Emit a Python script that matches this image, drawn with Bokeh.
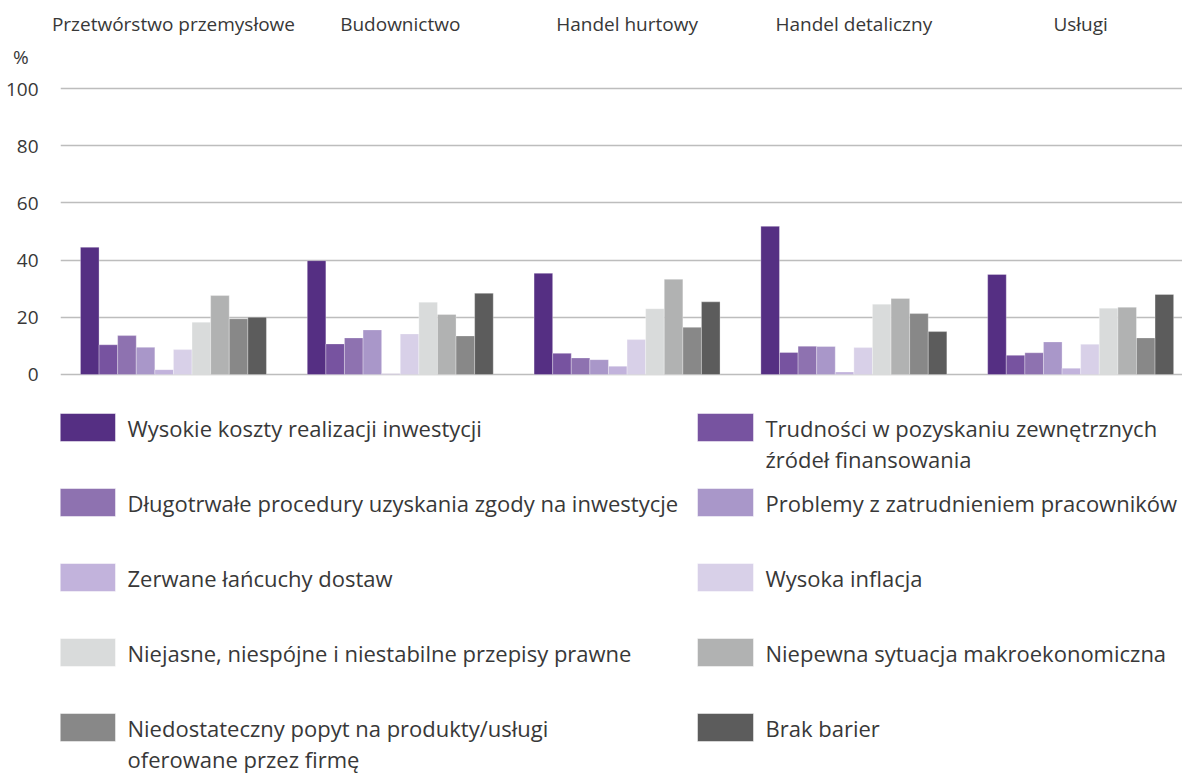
from bokeh.plotting import figure
from bokeh.models import Range1d, FixedTicker, ColumnDataSource, LinearAxis
from bokeh.layouts import column
from bokeh.embed import file_html
from bokeh.resources import INLINE
from bokeh.core.properties import value

groups = ["Przetwórstwo przemysłowe", "Budownictwo", "Handel hurtowy", "Handel detaliczny", "Usługi"]

series_names = [
    "Wysokie koszty realizacji inwestycji",
    "Trudności w pozyskaniu zewnętrznych\nźródeł finansowania",
    "Długotrwałe procedury uzyskania zgody na inwestycje",
    "Problemy z zatrudnieniem pracowników",
    "Zerwane łańcuchy dostaw",
    "Wysoka inflacja",
    "Niejasne, niespójne i niestabilne przepisy prawne",
    "Niepewna sytuacja makroekonomiczna",
    "Niedostateczny popyt na produkty/usługi\noferowane przez firmę",
    "Brak barier",
]

colors = ["#552f83", "#7753a0", "#8e72b0", "#a997c9", "#c2b3dc",
          "#d8d0e8", "#d9dbdb", "#b1b2b2", "#888888", "#5c5c5c"]

wysokie_koszty = [44.5, 39.8, 35.4, 51.8, 35.0]
trudnosci_finansowanie = [10.4, 10.7, 7.4, 7.7, 6.7]
dlugotrwale_procedury = [13.6, 12.8, 5.8, 9.9, 7.6]
problemy_zatrudnienie = [9.5, 15.6, 5.2, 9.8, 11.4]
zerwane_lancuchy = [1.7, 0.3, 2.9, 0.9, 2.2]
wysoka_inflacja = [8.7, 14.2, 12.2, 9.4, 10.6]
niejasne_przepisy = [18.3, 25.3, 23.0, 24.6, 23.2]
niepewna_sytuacja = [27.6, 21.0, 33.3, 26.6, 23.5]
niedostateczny_popyt = [19.5, 13.5, 16.5, 21.3, 12.8]
brak_barier = [20.0, 28.4, 25.4, 15.0, 28.0]

series_values = [wysokie_koszty, trudnosci_finansowanie, dlugotrwale_procedury,
                 problemy_zatrudnienie, zerwane_lancuchy, wysoka_inflacja,
                 niejasne_przepisy, niepewna_sytuacja, niedostateczny_popyt, brak_barier]

y_ticks = [0, 20, 40, 60, 80, 100]
unit_label = "%"
UNIT_POS = 111.2

FONT = "Open Sans"
TXT = "#383838"
W = 1182
LEFT = 60
TOP_H = 390

n = len(series_values)
group_w = 0.82
bar_w = group_w / n

p = figure(width=W, height=TOP_H, output_backend="svg", toolbar_location=None,
           x_range=Range1d(-0.498, 4.449), y_range=Range1d(-1.4, 115.4),
           x_axis_location=None, min_border_left=LEFT, min_border_right=0,
           min_border_top=44, min_border_bottom=12)
p.outline_line_color = None
p.xgrid.visible = False
p.ygrid.ticker = FixedTicker(ticks=y_ticks)
p.ygrid.grid_line_color = "#bdbdbd"
p.ygrid.grid_line_width = 1.5
p.yaxis.ticker = FixedTicker(ticks=y_ticks + [UNIT_POS])
p.yaxis.major_label_overrides = {UNIT_POS: unit_label + "\u00a0\u00a0"}
p.yaxis.axis_line_color = None
p.yaxis.major_tick_line_color = None
p.yaxis.minor_tick_line_color = None
p.yaxis.major_label_standoff = 16
p.yaxis.major_label_text_font = FONT
p.yaxis.major_label_text_font_size = "19px"
p.yaxis.major_label_text_color = TXT

gax = LinearAxis(ticker=FixedTicker(ticks=list(range(len(groups)))),
                 major_label_overrides={i: g for i, g in enumerate(groups)})
gax.axis_line_color = None
gax.major_tick_line_color = None
gax.minor_tick_line_color = None
gax.major_tick_out = 0
gax.major_label_standoff = 8
gax.major_label_text_font = FONT
gax.major_label_text_font_size = "19px"
gax.major_label_text_color = TXT
p.add_layout(gax, "above")

for j, vals in enumerate(series_values):
    xs = [i - group_w / 2 + (j + 0.5) * bar_w for i in range(len(groups))]
    src = ColumnDataSource(dict(x=xs, top=vals))
    p.vbar(x="x", top="top", bottom=0, width=bar_w, source=src,
           fill_color=colors[j], line_color="white", line_width=0.6, line_alpha=0.5)

# legend figure (coordinates in page pixels)
LEG_H = 383
lg = figure(width=W, height=LEG_H, output_backend="svg", toolbar_location=None,
            x_range=Range1d(LEFT, W), y_range=Range1d(LEG_H, 0),
            x_axis_location=None, y_axis_location=None,
            min_border_left=LEFT, min_border_right=0, min_border_top=0, min_border_bottom=0)
lg.outline_line_color = None
lg.xgrid.visible = False
lg.ygrid.visible = False

sw_x, sw_w, sw_h = [59, 697], 56, 28
tx_x = [127, 765]
row0, row_dy, line_dy = 37, 75, 31

rx, ry, rc = [], [], []
tx, ty, tt = [], [], []
for k, name in enumerate(series_names):
    col, row = k % 2, k // 2
    yc = row0 + row * row_dy
    rx.append(sw_x[col] + sw_w / 2)
    ry.append(yc)
    rc.append(colors[k])
    for li, line in enumerate(name.split("\n")):
        tx.append(tx_x[col])
        ty.append(yc + li * line_dy)
        tt.append(line)

lg.rect(x=rx, y=ry, width=sw_w, height=sw_h, fill_color=rc, line_color="white",
        line_width=0.8, line_alpha=0.6)
lg.text(x=tx, y=ty, text=tt, text_align="left", text_baseline="middle",
        text_font=value(FONT), text_font_size="22px", text_color=TXT)

layout = column(p, lg, spacing=0)
open("out.html", "w").write(file_html(layout, INLINE))
